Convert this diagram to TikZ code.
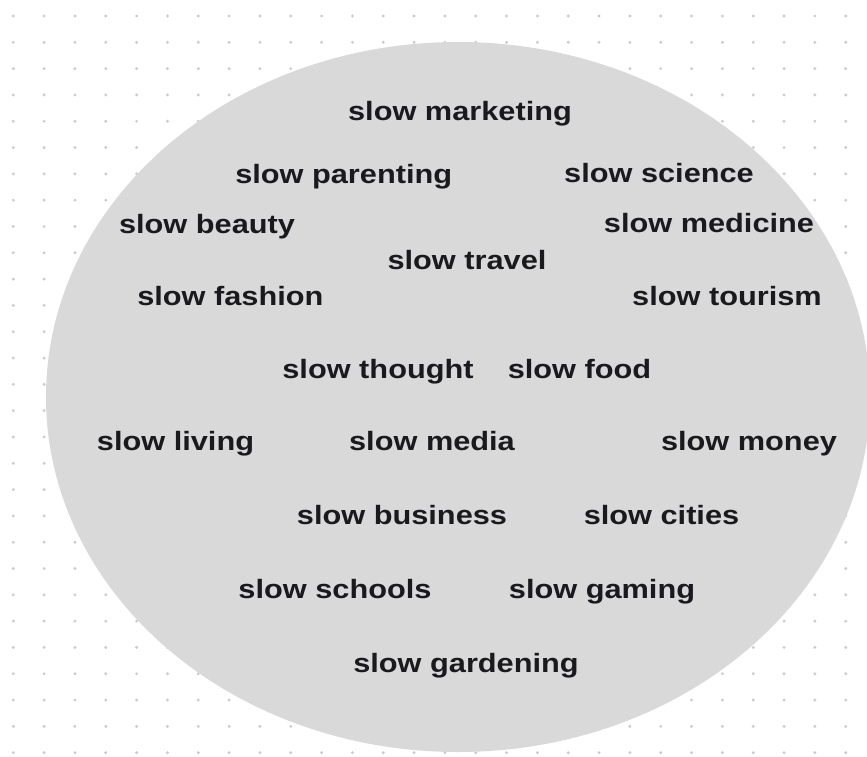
\documentclass[tikz,border=0pt]{standalone}
\usepackage{fontspec}
\setmainfont{Liberation Sans}
\definecolor{dotgrey}{RGB}{198,203,214}
\definecolor{blobgrey}{RGB}{217,217,217}
\definecolor{wordcol}{RGB}{26,26,30}
\newcommand{\widen}[1]{\scalebox{1.16}[1]{#1}}
\tikzset{
  slowword/.style={anchor=base,inner sep=0pt,text=wordcol,
    font=\fontsize{26.5}{30}\selectfont\bfseries},
  griddot/.style={fill=dotgrey,draw=none}
}
\begin{document}
\begin{tikzpicture}[x=1pt,y=-1pt]
 \useasboundingbox (0,0) rectangle (867,756);
 \clip (0,0) rectangle (867,756);
 \fill[white] (0,0) rectangle (867,756);
 % dotted background
 \foreach \i in {0,...,27}{
  \foreach \j in {0,...,28}{
   \fill[griddot] (13.3+30.83*\i,16+26.31*\j) circle (1.6);
  }
 }
 % the big grey blob
 \fill[blobgrey] (458,397) ellipse (412 and 355);
 % words
 \node[slowword] (marketing) at (460,120) {\widen{slow marketing}};
 \node[slowword] (parenting) at (343.7,183) {\widen{slow parenting}};
 \node[slowword] (science) at (659,182.5) {\widen{slow science}};
 \node[slowword] (beauty) at (207,233) {\widen{slow beauty}};
 \node[slowword] (medicine) at (709,232.5) {\widen{slow medicine}};
 \node[slowword] (travel) at (467,269) {\widen{slow travel}};
 \node[slowword] (fashion) at (230.4,305.5) {\widen{slow fashion}};
 \node[slowword] (tourism) at (727,305.5) {\widen{slow tourism}};
 \node[slowword] (thought) at (378,378) {\widen{slow thought}};
 \node[slowword] (food) at (579.5,378) {\widen{slow food}};
 \node[slowword] (living) at (175.5,450.5) {\widen{slow living}};
 \node[slowword] (media) at (432,450.5) {\widen{slow media}};
 \node[slowword] (money) at (749,450.5) {\widen{slow money}};
 \node[slowword] (business) at (402,524) {\widen{slow business}};
 \node[slowword] (cities) at (661.5,524) {\widen{slow cities}};
 \node[slowword] (schools) at (335,598.5) {\widen{slow schools}};
 \node[slowword] (gaming) at (602,598.5) {\widen{slow gaming}};
 \node[slowword] (gardening) at (466,672.5) {\widen{slow gardening}};
\end{tikzpicture}
\end{document}
